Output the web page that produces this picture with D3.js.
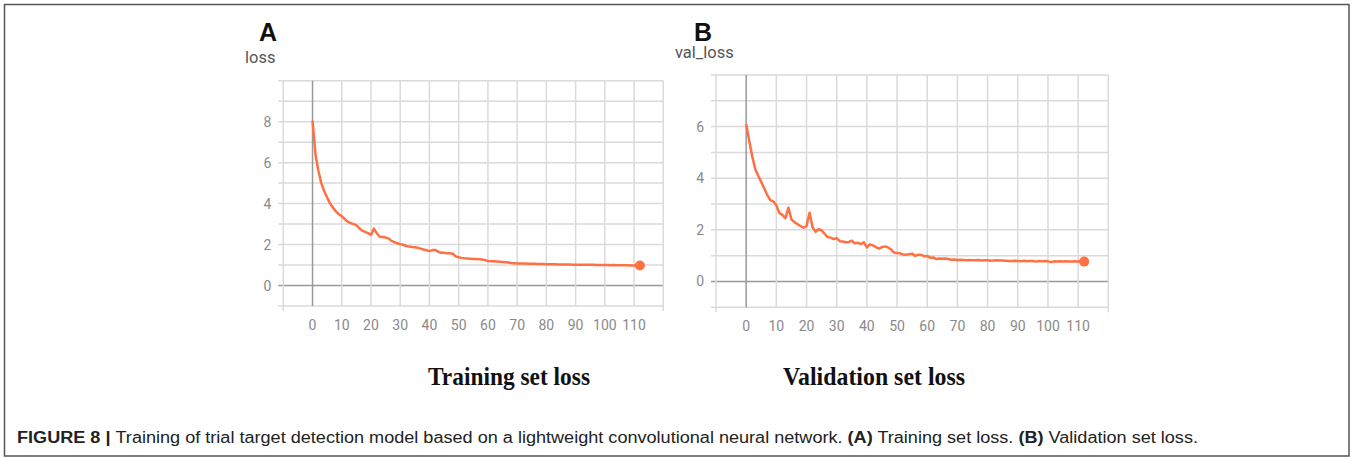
<!DOCTYPE html>
<html>
<head>
<meta charset="utf-8">
<script src="https://cdn.jsdelivr.net/npm/d3@7"></script>
<style>
  body { margin: 0; background: #fff; }
  svg { display: block; }
</style>
</head>
<body>
<div id="chart"></div>
<script>
// loss per epoch (0..112)
var trainLoss = [
  8.05, 6.4, 5.6, 5.0, 4.6, 4.3, 4.0, 3.8, 3.62, 3.48,
  3.38, 3.25, 3.12, 3.05, 3.0, 2.95, 2.8, 2.68, 2.62, 2.56,
  2.47, 2.78, 2.55, 2.38, 2.37, 2.34, 2.3, 2.18, 2.12, 2.06,
  2.02, 1.99, 1.93, 1.9, 1.88, 1.87, 1.84, 1.8, 1.76, 1.72,
  1.68, 1.73, 1.74, 1.65, 1.6, 1.6, 1.58, 1.57, 1.55, 1.42,
  1.38, 1.35, 1.33, 1.32, 1.31, 1.3, 1.29, 1.28, 1.27, 1.24,
  1.2, 1.19, 1.18, 1.17, 1.16, 1.15, 1.14, 1.12, 1.1, 1.09,
  1.08, 1.08, 1.07, 1.07, 1.06, 1.06, 1.06, 1.05, 1.05, 1.05,
  1.04, 1.04, 1.04, 1.04, 1.03, 1.03, 1.03, 1.03, 1.03, 1.02,
  1.02, 1.02, 1.02, 1.01, 1.01, 1.01, 1.01, 1.0, 1.0, 1.0,
  1.0, 1.0, 0.99, 1.0, 0.99, 0.99, 0.99, 0.99, 0.99, 0.98,
  0.98, 0.98, 0.98
];

var valLoss = [
  6.1, 5.45, 4.85, 4.35, 4.1, 3.85, 3.6, 3.35, 3.15, 3.1,
  2.95, 2.65, 2.58, 2.45, 2.86, 2.4, 2.3, 2.22, 2.15, 2.08,
  2.15, 2.66, 2.1, 1.92, 2.03, 1.98, 1.85, 1.72, 1.7, 1.64,
  1.68, 1.56, 1.55, 1.52, 1.53, 1.58, 1.48, 1.5, 1.45, 1.52,
  1.32, 1.44, 1.4, 1.33, 1.27, 1.33, 1.36, 1.32, 1.24, 1.12,
  1.1, 1.09, 1.05, 1.04, 1.06, 1.08, 0.99, 1.04, 1.03, 0.98,
  0.99, 0.92, 0.93, 0.87, 0.89, 0.88, 0.89, 0.87, 0.84, 0.85,
  0.83, 0.84, 0.83, 0.82, 0.83, 0.82, 0.82, 0.83, 0.81, 0.82,
  0.82, 0.8, 0.81, 0.82, 0.81, 0.81, 0.8, 0.79, 0.79, 0.8,
  0.79, 0.78, 0.8, 0.78, 0.79, 0.79, 0.77, 0.79, 0.78, 0.79,
  0.78, 0.75, 0.78, 0.77, 0.78, 0.77, 0.78, 0.77, 0.77, 0.78,
  0.77, 0.77, 0.77
];

var xTickLabels = [0, 10, 20, 30, 40, 50, 60, 70, 80, 90, 100, 110];
var yTicksA = [0, 2, 4, 6, 8];
var yTicksB = [0, 2, 4, 6];

var W = 1352, H = 457;
var orange = "#ff7043";

var svg = d3.select("#chart").append("svg")
    .attr("width", W)
    .attr("height", H);

// outer frame
svg.append("rect")
    .attr("x", 4.5).attr("y", 4.5)
    .attr("width", 1344.5).attr("height", 451.5)
    .attr("fill", "none")
    .attr("stroke", "#555")
    .attr("stroke-width", 1.5);

function panel(opt) {
  var x = d3.scaleLinear().domain([-10, 120]).range([opt.left, opt.right]);
  var y = d3.scaleLinear().domain([-1, opt.ymax]).range([opt.bottom, opt.top]);
  var g = svg.append("g");

  // horizontal grid (every unit), sticking out 5px on the left
  g.selectAll(".hg").data(d3.range(-1, opt.ymax + 1))
    .enter().append("line")
      .attr("x1", opt.left - 5).attr("x2", opt.right)
      .attr("y1", function(d) { return y(d); })
      .attr("y2", function(d) { return y(d); })
      .attr("stroke", function(d) { return d === 0 ? "#999" : "#dadada"; })
      .attr("stroke-width", 1.5);

  // vertical grid every 10 epochs; the two edges stick out 5px below
  g.selectAll(".vg").data(d3.range(-10, 121, 10))
    .enter().append("line")
      .attr("x1", function(d) { return x(d); })
      .attr("x2", function(d) { return x(d); })
      .attr("y1", opt.top)
      .attr("y2", function(d) { return (d === -10 || d === 120) ? opt.bottom + 5 : opt.bottom; })
      .attr("stroke", function(d) { return d === 0 ? "#999" : "#dadada"; })
      .attr("stroke-width", 1.5);

  // tick labels
  g.selectAll(".xl").data(xTickLabels)
    .enter().append("text")
      .attr("x", function(d) { return x(d); })
      .attr("y", opt.bottom + 24)
      .attr("text-anchor", "middle")
      .attr("font-family", "Roboto, sans-serif")
      .attr("font-size", 14)
      .attr("fill", "#8a8a8a")
      .text(function(d) { return d; });

  g.selectAll(".yl").data(opt.yTicks)
    .enter().append("text")
      .attr("x", opt.left - 12)
      .attr("y", function(d) { return y(d) + 5; })
      .attr("text-anchor", "end")
      .attr("font-family", "Roboto, sans-serif")
      .attr("font-size", 14)
      .attr("fill", "#8a8a8a")
      .text(function(d) { return d; });

  var line = d3.line()
      .x(function(d, i) { return x(i); })
      .y(function(d) { return y(d); });

  g.append("path")
      .datum(opt.values)
      .attr("d", line)
      .attr("fill", "none")
      .attr("stroke", orange)
      .attr("stroke-width", 2.5)
      .attr("stroke-linejoin", "round");

  var last = opt.values.length - 1;
  g.append("circle")
      .attr("cx", x(last))
      .attr("cy", y(opt.values[last]))
      .attr("r", 5)
      .attr("fill", orange);

  // panel letter + metric name
  g.append("text")
      .attr("x", opt.letterX).attr("y", 40.5)
      .attr("font-family", "Liberation Sans, Arial, sans-serif")
      .attr("font-weight", "bold")
      .attr("font-size", 25)
      .attr("fill", "#111")
      .text(opt.letter);

  g.append("text")
      .attr("x", opt.nameX).attr("y", opt.nameY)
      .attr("font-family", "Roboto, sans-serif")
      .attr("font-size", 16.5)
      .attr("fill", "#555")
      .text(opt.name);

  // title under the chart
  g.append("text")
      .attr("x", opt.titleX).attr("y", 385)
      .attr("font-family", "Liberation Serif, Times New Roman, serif")
      .attr("font-weight", "bold")
      .attr("font-size", 25)
      .attr("textLength", opt.titleW)
      .attr("lengthAdjust", "spacingAndGlyphs")
      .attr("fill", "#111")
      .text(opt.title);
}

panel({
  left: 283.3, right: 663.3, top: 80.7, bottom: 306,
  ymax: 10, yTicks: yTicksA, values: trainLoss,
  letter: "A", letterX: 259, name: "loss", nameX: 245, nameY: 63,
  title: "Training set loss", titleX: 428, titleW: 162
});

panel({
  left: 716, right: 1108.3, top: 75, bottom: 307.3,
  ymax: 8, yTicks: yTicksB, values: valLoss,
  letter: "B", letterX: 694, name: "val_loss", nameX: 675, nameY: 58,
  title: "Validation set loss", titleX: 783, titleW: 182
});

// figure caption
var cap = svg.append("text")
    .attr("x", 17).attr("y", 443)
    .attr("font-family", "Liberation Sans, Arial, sans-serif")
    .attr("font-size", 16)
    .attr("fill", "#222")
    .attr("textLength", 1181)
    .attr("lengthAdjust", "spacingAndGlyphs");

cap.append("tspan").attr("font-weight", "bold").text("FIGURE 8 | ");
cap.append("tspan").text("Training of trial target detection model based on a lightweight convolutional neural network. ");
cap.append("tspan").attr("font-weight", "bold").text("(A)");
cap.append("tspan").text(" Training set loss. ");
cap.append("tspan").attr("font-weight", "bold").text("(B)");
cap.append("tspan").text(" Validation set loss.");
</script>
</body>
</html>
